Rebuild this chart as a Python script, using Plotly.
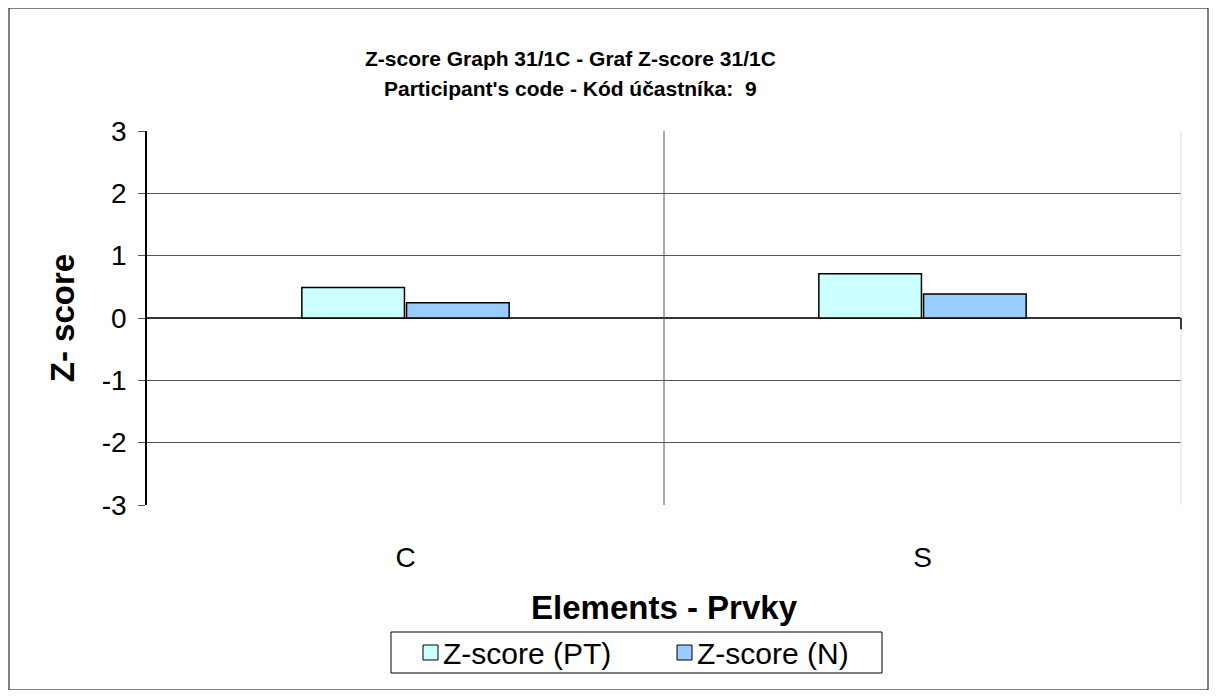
import plotly.graph_objects as go

categories = ["C", "S"]
z_pt = [0.49, 0.71]
z_n = [0.245, 0.385]
series_names = ["Z-score (PT)", "Z-score (N)"]
series_colors = ["#CCFFFF", "#99CCFF"]
y_ticks = [-3, -2, -1, 0, 1, 2, 3]
y_tick_text = ["-3", "-2", "-1", "0", "1", "2", "3"]

O = 8  # page body margin
W, H = 1201, 682
L, R, T, B = 147 - O, 1181 - O, 131 - O, 505 - O
pw, ph = R - L, B - T

def px(x):
    return (x - O - L) / pw

def py(y):
    return (B - (y - O)) / ph

fig = go.Figure()
for name, vals, col in zip(series_names, [z_pt, z_n], series_colors):
    fig.add_trace(go.Bar(x=categories, y=vals, name=name, showlegend=False,
                         marker=dict(color=col, line=dict(color="black", width=1.5))))

fig.update_layout(
    width=W, height=H,
    margin=dict(l=L, r=W - R, t=T, b=H - B),
    paper_bgcolor="white", plot_bgcolor="white",
    barmode="group", bargap=0.595, bargroupgap=0.02,
    font=dict(family="Arial, Liberation Sans, sans-serif", color="black"),
    showlegend=False,
    xaxis=dict(showgrid=False, showline=False, ticks="", tickfont=dict(size=28),
               ticklabelstandoff=33,
               title=dict(text="<b>Elements - Prvky</b>", font=dict(size=33), standoff=23)),
    yaxis=dict(range=[-3, 3], tickvals=y_ticks, ticktext=y_tick_text,
               showgrid=True, gridcolor="#555555", gridwidth=1,
               zeroline=True, zerolinecolor="#333333", zerolinewidth=1.5,
               showline=True, linecolor="black", linewidth=1.5,
               ticks="outside", ticklen=7, tickcolor="#555555", tickfont=dict(size=28),
               ticklabelstandoff=6,
               title=dict(text="<b>Z- score</b>", font=dict(size=33), standoff=17)),
)

shapes = [
    dict(type="rect", xref="paper", yref="paper", x0=px(9), x1=px(1208), y0=py(690), y1=py(8),
         line=dict(color="black", width=1), layer="below"),
    dict(type="rect", xref="paper", yref="paper", x0=px(391), x1=px(882), y0=py(673), y1=py(632),
         line=dict(color="black", width=1), layer="below"),
    dict(type="line", xref="x", yref="paper", x0=0.5, x1=0.5, y0=0, y1=1,
         line=dict(color="#555555", width=1)),
    dict(type="line", xref="paper", yref="paper", x0=1, x1=1, y0=0, y1=1,
         line=dict(color="#dddddd", width=1)),
    dict(type="line", xref="paper", yref="y", x0=1, x1=1, y0=0, y1=-0.18,
         line=dict(color="black", width=1.5)),
]

# legend drawn as swatches + text
legend_x = [423, 677]
for lx, name, col in zip(legend_x, series_names, series_colors):
    shapes.append(dict(type="rect", xref="paper", yref="paper",
                       x0=px(lx), x1=px(lx + 15), y0=py(660), y1=py(645),
                       fillcolor=col, line=dict(color="black", width=1)))
    fig.add_annotation(text=name, xref="paper", yref="paper", x=px(lx + 18), y=py(653),
                       xanchor="left", yanchor="middle", showarrow=False, font=dict(size=30))

fig.update_layout(shapes=shapes)

fig.add_annotation(text="<b>Z-score Graph 31/1C - Graf Z-score 31/1C</b>", xref="paper", yref="paper",
                   x=px(570), y=py(58), xanchor="center", yanchor="middle", showarrow=False,
                   font=dict(size=21))
fig.add_annotation(text="<b>Participant's code - Kód účastníka:  9</b>", xref="paper", yref="paper",
                   x=px(570), y=py(88), xanchor="center", yanchor="middle", showarrow=False,
                   font=dict(size=21))

fig.write_html("out.html")
